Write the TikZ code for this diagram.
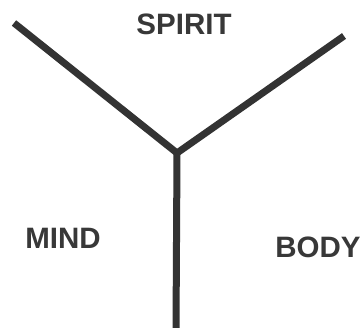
\documentclass[tikz,border=0pt]{standalone}
\usepackage{fontspec}
\setmainfont{Liberation Sans}
\begin{document}
\begin{tikzpicture}[x=1pt,y=-1pt,
  arm/.style={line width=7pt,draw=black!80,line join=miter},
  lbl/.style={font=\fontsize{29.5}{31}\selectfont\bfseries,text=black!78,inner sep=0pt}]
\useasboundingbox (0,0) rectangle (363,328);
\coordinate (j) at (177,153);
\coordinate (l) at (14,23);
\coordinate (r) at (344,36);
\coordinate (b) at (176,330);
\draw[arm] (l) -- (j) -- (r);
\draw[arm] (j) -- (b);
\node[lbl] (spirit) at (184,24) {SPIRIT};
\node[lbl] (mind) at (63,238) {MIND};
\node[lbl] (body) at (318,247) {BODY};
\end{tikzpicture}
\end{document}
